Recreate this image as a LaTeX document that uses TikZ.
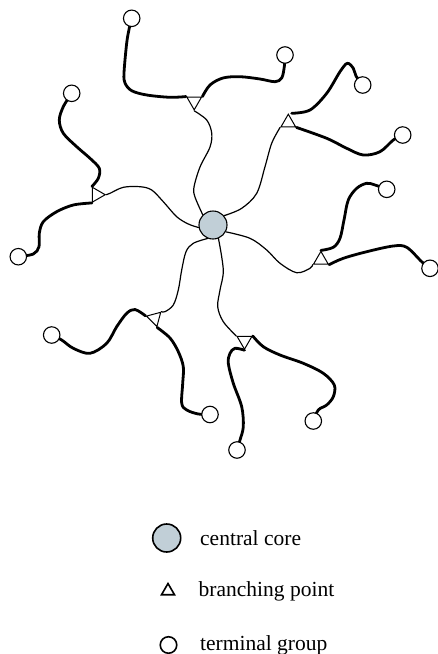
\documentclass[tikz,border=0pt]{standalone}
\usepackage{fontspec}
\setmainfont{Liberation Serif}
\usetikzlibrary{shapes.geometric,backgrounds}
\definecolor{corefill}{RGB}{193,207,215}
\begin{document}
\begin{tikzpicture}[x=1pt,y=-1pt,
  term/.style={circle,draw,fill=white,line width=1.1pt,minimum size=16.5pt,inner sep=0pt},
  coreball/.style={circle,draw,fill=corefill,line width=1.1pt,minimum size=28pt,inner sep=0pt},
  branch/.style={regular polygon,regular polygon sides=3,draw,fill=white,line width=1pt,minimum size=17pt,inner sep=0pt},
  curvy/.style={smooth,tension=0.55},
  thinarm/.style={line width=1.2pt,line cap=round,line join=round},
  thickarm/.style={line width=2.8pt,line cap=round,line join=round},
  lbl/.style={anchor=base west,inner sep=0pt,font=\fontsize{21.5}{24}\selectfont}]
\useasboundingbox (0,0) rectangle (437,654);
% nodes
\node[coreball] (core) at (213,225) {};
\node[branch,rotate=180] (A) at (194.2,101.3) {};
\node[branch] (B) at (288.3,122.7) {};
\node[branch,rotate=-90] (C) at (96.7,194.7) {};
\node[branch] (D) at (320.9,259.9) {};
\node[branch,rotate=-45] (E) at (154.7,318.3) {};
\node[branch,rotate=180] (F) at (244.5,340.7) {};
\node[term] (T1) at (131.7,18.3) {};
\node[term] (T2) at (285,55) {};
\node[term] (T3) at (362.7,85) {};
\node[term] (T4) at (402.7,135) {};
\node[term] (T5) at (71.7,93.3) {};
\node[term] (T6) at (18.3,256.7) {};
\node[term] (T7) at (386.7,189.3) {};
\node[term] (T8) at (430,268.3) {};
\node[term] (T9) at (51.7,335) {};
\node[term] (T10) at (210,414.5) {};
\node[term] (T11) at (313.3,421) {};
\node[term] (T12) at (237,450) {};
% legend
\node[coreball,line width=1.6pt] (Lcore) at (166.7,538) {};
\node[branch,minimum size=15pt,line width=1.6pt] (Lbranch) at (168,591) {};
\node[term,line width=1.6pt] (Lterm) at (168.5,645) {};
\node[lbl] (Lt1) at (200,545) {central core};
\node[lbl] (Lt2) at (198.5,596) {branching point};
\node[lbl] (Lt3) at (200,650) {terminal group};
\begin{scope}[on background layer]
% arm A
\draw[thinarm] plot[curvy] coordinates {(core.135) (195,197) (194,187) (200,167) (210,147) (211.7,133) (206.7,120) (A.corner 1)};
\draw[thickarm] plot[curvy] coordinates {(A.corner 3) (170,97.3) (146.7,95) (131.7,90.7) (125,83) (124,73) (126.7,43) (129.3,28) (T1)};
\draw[thickarm] plot[curvy] coordinates {(A.corner 2) (210,85) (223,78) (240,76.7) (260,79) (275,81.7) (281.7,78) (284.3,66.7) (T2)};
% arm B
\draw[thinarm] plot[curvy] coordinates {(core.40) (241.7,208.3) (256.7,193.3) (265,166.7) (271.7,143.3) (B.corner 2)};
\draw[thickarm] plot[curvy] coordinates {(291.7,113.3) (310,110) (326.7,93.3) (340,71.7) (347.3,63.3) (353.3,68.3) (356,76) (T3)};
\draw[thickarm] plot[curvy] coordinates {(B.corner 3) (326.7,138.3) (346.7,148.3) (363.3,155) (380,151.7) (393.3,140) (T4)};
% arm C
\draw[thinarm] plot[curvy] coordinates {(core.190) (188.3,224) (176.7,216.7) (163.3,201.7) (151.7,190) (140,186.7) (123.3,187.3) (110,193.3) (C.corner 1)};
\draw[thickarm] plot[curvy] coordinates {(C.corner 2) (98.3,178.3) (99.3,168.3) (90,158.3) (76.7,146.7) (63.3,133.3) (59.3,120) (63.3,106.7) (T5)};
\draw[thickarm] plot[curvy] coordinates {(C.corner 3) (73.3,205) (56.7,211.7) (43.3,221.7) (39.3,233.3) (39,246.7) (33.3,254) (T6)};
% arm D
\draw[thinarm] plot[curvy] coordinates {(core.-28) (250,238.3) (266.7,250) (280,263.3) (296.7,272.7) (310,268.3) (D.corner 2)};
\draw[thickarm] plot[curvy] coordinates {(D.corner 1) (333.3,247.3) (340,238.3) (344,220) (348.3,200) (356.7,188.3) (366.7,183.3) (375,185) (T7)};
\draw[thickarm] plot[curvy] coordinates {(D.corner 3) (343.3,258.3) (366.7,251.7) (393.3,246) (406.7,247.3) (421.7,261.7) (T8)};
% arm E
\draw[thinarm] plot[curvy] coordinates {(core.-112) (193.3,243.3) (186,251.7) (181.7,270) (178.3,290) (173.3,305) (165,311.7) (E.corner 1)};
\draw[thickarm] plot[curvy] coordinates {(E.corner 2) (135,309.5) (126.7,313.3) (116.7,326.7) (106.7,343.3) (90,353.3) (73.3,348.3) (61.7,340) (T9)};
\draw[thickarm] plot[curvy] coordinates {(E.corner 3) (170,338) (178.3,351.7) (183.3,366.7) (182.7,383.3) (181.7,403.3) (186.7,410) (198.3,414) (T10)};
% arm F
\draw[thinarm] plot[curvy] coordinates {(core.-68) (223.3,270) (220,290) (217.7,306.7) (223.3,321.7) (F.corner 3)};
\draw[thickarm] plot[curvy] coordinates {(F.corner 1) (235,348.3) (230,353.3) (228.3,363.3) (233.3,383.3) (241.7,406.7) (243.3,426.7) (240,440) (T12)};
\draw[thickarm] plot[curvy] coordinates {(F.corner 2) (263.3,346.7) (280,355) (303.3,363.3) (323.3,373.3) (334.3,385) (333.3,396.7) (326.7,405) (318.3,410) (T11)};
\end{scope}
\end{tikzpicture}
\end{document}
